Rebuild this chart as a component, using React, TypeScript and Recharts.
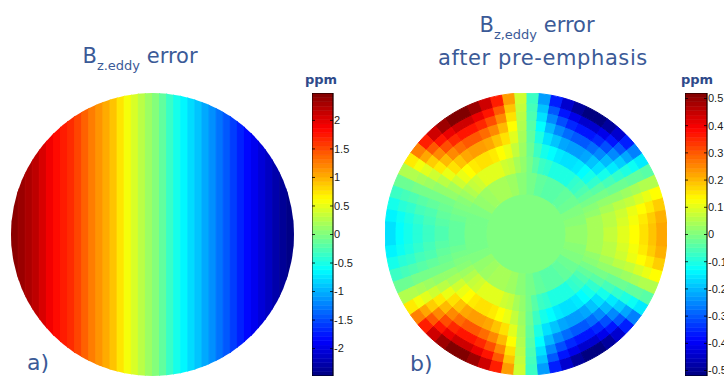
import React from 'react';
import { BarChart, Bar, Cell, XAxis, YAxis, PieChart, Pie, ComposedChart, ReferenceArea } from 'recharts';

// panel a: error per vertical strip, left -> right (ppm)
const stripsA = [
  2.43, 2.35, 2.27, 2.18, 2.05, 1.92, 1.81, 1.73, 1.65, 1.53,
  1.39, 1.25, 1.14, 1.03, 0.91, 0.74, 0.57, 0.43, 0.28, 0.14,
  0.02, -0.15, -0.35, -0.52, -0.66, -0.79, -0.9, -1.04, -1.16, -1.3,
  -1.43, -1.57, -1.71, -1.83, -1.94, -2.05, -2.15, -2.27, -2.37, -2.45,
];

// panel b: error per ring sector, counter-clockwise from 3 o'clock, inner ring first (ppm)
const ring0 = [0];
const ring1 = [
  0.02, 0.01, 0, -0.02, -0.03, -0.04, -0.04, -0.03, -0.01, 0.01, 0.03, 0.04, 0.04, 0.03, 0.02, 0, -0.01, -0.01,
  -0.01, -0.01, 0, 0.02, 0.03, 0.04, 0.04, 0.03, 0.01, -0.01, -0.03, -0.04, -0.04, -0.03, -0.02, 0, 0.01, 0.02,
];
const ring2 = [
  0.04, 0.04, 0.04, 0.02, 0.01, -0.01, -0.03, -0.05, -0.07, -0.08, -0.1, -0.1, -0.1, -0.1, -0.08, -0.07, -0.04, -0.01,
  0.02, 0.04, 0.07, 0.08, 0.1, 0.1, 0.1, 0.1, 0.08, 0.07, 0.05, 0.03, 0.01, 0, -0.01, -0.02, -0.03, -0.03,
  -0.03, -0.03, -0.02, -0.01, 0, 0.01, 0.03, 0.05, 0.07, 0.08, 0.1, 0.1, 0.1, 0.1, 0.08, 0.07, 0.04, 0.02,
  -0.01, -0.04, -0.07, -0.08, -0.1, -0.1, -0.1, -0.1, -0.08, -0.07, -0.05, -0.03, -0.01, 0.01, 0.02, 0.04, 0.04, 0.04,
];
const ring3 = [
  0.07, 0.06, 0.06, 0.04, 0.02, -0.01, -0.04, -0.08, -0.11, -0.13, -0.15, -0.16, -0.16, -0.15, -0.13, -0.11, -0.07, -0.02,
  0.03, 0.07, 0.11, 0.13, 0.15, 0.16, 0.16, 0.15, 0.13, 0.11, 0.08, 0.04, 0.02, -0.01, -0.02, -0.03, -0.04, -0.05,
  -0.05, -0.04, -0.03, -0.02, -0.01, 0.02, 0.04, 0.08, 0.11, 0.13, 0.15, 0.16, 0.16, 0.15, 0.13, 0.11, 0.07, 0.03,
  -0.02, -0.07, -0.11, -0.13, -0.15, -0.16, -0.16, -0.15, -0.13, -0.11, -0.08, -0.04, -0.01, 0.02, 0.04, 0.06, 0.06, 0.07,
];
const ring4 = [
  0.1, 0.09, 0.08, 0.06, 0.02, -0.02, -0.06, -0.11, -0.16, -0.19, -0.22, -0.23, -0.23, -0.22, -0.19, -0.16, -0.1, -0.03,
  0.04, 0.1, 0.16, 0.19, 0.22, 0.23, 0.23, 0.22, 0.19, 0.16, 0.11, 0.06, 0.02, -0.01, -0.03, -0.05, -0.06, -0.07,
  -0.07, -0.06, -0.05, -0.03, -0.01, 0.02, 0.06, 0.11, 0.16, 0.19, 0.22, 0.23, 0.23, 0.22, 0.19, 0.16, 0.1, 0.04,
  -0.03, -0.1, -0.16, -0.19, -0.22, -0.23, -0.23, -0.22, -0.19, -0.16, -0.11, -0.06, -0.02, 0.02, 0.06, 0.08, 0.09, 0.1,
];
const ring5 = [
  0.13, 0.12, 0.11, 0.07, 0.03, -0.02, -0.08, -0.15, -0.2, -0.25, -0.28, -0.3, -0.3, -0.28, -0.25, -0.2, -0.13, -0.04,
  0.05, 0.13, 0.2, 0.25, 0.28, 0.3, 0.3, 0.28, 0.25, 0.2, 0.15, 0.08, 0.03, -0.01, -0.04, -0.06, -0.08, -0.09,
  -0.09, -0.08, -0.06, -0.04, -0.01, 0.03, 0.08, 0.15, 0.2, 0.25, 0.28, 0.3, 0.3, 0.28, 0.25, 0.2, 0.13, 0.05,
  -0.04, -0.13, -0.2, -0.25, -0.28, -0.3, -0.3, -0.28, -0.25, -0.2, -0.15, -0.08, -0.02, 0.03, 0.07, 0.11, 0.12, 0.13,
];
const ring6 = [
  0.16, 0.15, 0.13, 0.09, 0.04, -0.03, -0.1, -0.18, -0.25, -0.31, -0.35, -0.37, -0.37, -0.35, -0.31, -0.25, -0.16, -0.05,
  0.06, 0.16, 0.25, 0.31, 0.35, 0.37, 0.37, 0.35, 0.31, 0.25, 0.18, 0.1, 0.04, -0.01, -0.05, -0.08, -0.1, -0.11,
  -0.11, -0.1, -0.08, -0.05, -0.01, 0.04, 0.1, 0.18, 0.25, 0.31, 0.35, 0.37, 0.37, 0.35, 0.31, 0.25, 0.16, 0.06,
  -0.05, -0.16, -0.25, -0.31, -0.35, -0.37, -0.37, -0.35, -0.31, -0.25, -0.18, -0.1, -0.03, 0.04, 0.09, 0.13, 0.15, 0.16,
];
const ring7 = [
  0.19, 0.18, 0.15, 0.11, 0.05, -0.03, -0.12, -0.22, -0.3, -0.37, -0.41, -0.44, -0.44, -0.41, -0.37, -0.3, -0.19, -0.06,
  0.07, 0.19, 0.3, 0.37, 0.41, 0.44, 0.44, 0.41, 0.37, 0.3, 0.22, 0.12, 0.05, -0.02, -0.06, -0.09, -0.12, -0.13,
  -0.13, -0.12, -0.09, -0.06, -0.02, 0.05, 0.12, 0.22, 0.3, 0.37, 0.41, 0.44, 0.44, 0.41, 0.37, 0.3, 0.19, 0.07,
  -0.06, -0.19, -0.3, -0.37, -0.41, -0.44, -0.44, -0.41, -0.37, -0.3, -0.22, -0.12, -0.03, 0.05, 0.11, 0.15, 0.18, 0.19,
];
const ring8 = [
  0.22, 0.21, 0.18, 0.13, 0.05, -0.04, -0.15, -0.26, -0.36, -0.44, -0.49, -0.52, -0.52, -0.49, -0.44, -0.36, -0.23, -0.07,
  0.08, 0.23, 0.36, 0.44, 0.49, 0.52, 0.52, 0.49, 0.44, 0.36, 0.26, 0.15, 0.05, -0.02, -0.07, -0.11, -0.14, -0.16,
  -0.16, -0.14, -0.11, -0.07, -0.02, 0.05, 0.15, 0.26, 0.36, 0.44, 0.49, 0.52, 0.52, 0.49, 0.44, 0.36, 0.23, 0.08,
  -0.07, -0.23, -0.36, -0.44, -0.49, -0.52, -0.52, -0.49, -0.44, -0.36, -0.26, -0.15, -0.04, 0.05, 0.13, 0.18, 0.21, 0.22,
];
const ringsB = [ring0, ring1, ring2, ring3, ring4, ring5, ring6, ring7, ring8];

const rangeA = [-2.48, 2.48];
const rangeB = [-0.52, 0.52];
const ticksA = [-2, -1.5, -1, -0.5, 0, 0.5, 1, 1.5, 2];
const ticksB = [-0.5, -0.4, -0.3, -0.2, -0.1, 0, 0.1, 0.2, 0.3, 0.4, 0.5];

// ring edges in px (disc radius 141)
const ringEdges = [0, 40, 62, 78, 92, 104, 114, 123, 131, 141];

const TITLE = '#3b5a97';

function jet(v: number, lo: number, hi: number) {
  const t = Math.min(1, Math.max(0, (v - lo) / (hi - lo)));
  const c = (x: number) => Math.round(255 * Math.min(1, Math.max(0, x)));
  const r = c(Math.min(4 * t - 1.5, -4 * t + 4.5));
  const g = c(Math.min(4 * t - 0.5, -4 * t + 3.5));
  const b = c(Math.min(4 * t + 0.5, -4 * t + 2.5));
  return `rgb(${r},${g},${b})`;
}

const CbTick = ({ x, y, payload, barW }: any) => (
  <g>
    <line x1={x - barW} x2={x - barW + 3} y1={y} y2={y} stroke="#000" strokeWidth={0.8} />
    <line x1={x - 3} x2={x} y1={y} y2={y} stroke="#000" strokeWidth={0.8} />
    <text x={x + 1} y={y} dy="0.35em" fontSize={11} fill="#1a1a1a" fontFamily="Liberation Sans, Arial, sans-serif">
      {String(payload.value)}
    </text>
  </g>
);

function ColorBar({ left, barW, range, ticks }: { left: number; barW: number; range: number[]; ticks: number[] }) {
  const [lo, hi] = range;
  const levels = 64;
  const step = (hi - lo) / levels;
  const segs = Array.from({ length: levels }, (_, i) => ({ y1: lo + i * step, y2: lo + (i + 1) * step }));
  return (
    <div style={{ position: 'absolute', left, top: 93 }}>
      <ComposedChart width={barW + 40} height={283} data={[{ x: 0 }, { x: 1 }]} margin={{ top: 0, right: 0, bottom: 0, left: 0 }}>
        <XAxis dataKey="x" type="number" domain={[0, 1]} hide />
        <YAxis
          orientation="right"
          type="number"
          domain={[lo, hi]}
          ticks={ticks}
          interval={0}
          width={40}
          axisLine={false}
          tickLine={false}
          tickSize={0}
          tickMargin={0}
          allowDataOverflow
          tick={<CbTick barW={barW} />}
        />
        {segs.map((s, i) => {
          const c = jet((s.y1 + s.y2) / 2, lo, hi);
          return <ReferenceArea key={i} y1={s.y1} y2={s.y2} fill={c} fillOpacity={1} stroke={c} strokeWidth={0.6} ifOverflow="visible" />;
        })}
        <ReferenceArea y1={lo} y2={hi} fill="none" stroke="#000" strokeWidth={1} ifOverflow="visible" />
      </ComposedChart>
    </div>
  );
}

export default function App() {
  const stripData = stripsA.map((v, i) => ({ col: i, v, span: 1 }));
  return (
    <div style={{ position: 'absolute', left: 0, top: 0, width: 724, height: 377, overflow: 'hidden', background: '#fff' }}>
      {/* panel a */}
      <div style={{ position: 'absolute', left: 11, top: 93, width: 283, height: 283, clipPath: 'circle(141.5px at 141.5px 141.5px)' }}>
        <BarChart width={283} height={283} data={stripData} margin={{ top: 0, right: 0, bottom: 0, left: 0 }} barCategoryGap={0} barGap={0}>
          <XAxis dataKey="col" hide />
          <YAxis hide domain={[0, 1]} />
          <Bar dataKey="span" isAnimationActive={false}>
            {stripData.map((d, i) => {
              const c = jet(d.v, rangeA[0], rangeA[1]);
              return <Cell key={i} fill={c} stroke={c} strokeWidth={1} />;
            })}
          </Bar>
        </BarChart>
      </div>
      <ColorBar left={312} barW={21} range={rangeA} ticks={ticksA} />

      {/* panel b */}
      <div style={{ position: 'absolute', left: 385, top: 93 }}>
        <PieChart width={282} height={282} margin={{ top: 0, right: 0, bottom: 0, left: 0 }}>
          {ringsB.map((ring, k) => (
            <Pie
              key={k}
              data={ring.map((v) => ({ v, span: 1 }))}
              dataKey="span"
              cx="50%"
              cy="50%"
              innerRadius={ringEdges[k]}
              outerRadius={ringEdges[k + 1]}
              startAngle={0}
              endAngle={360}
              paddingAngle={0}
              isAnimationActive={false}
            >
              {ring.map((v, i) => {
                const c = jet(v, rangeB[0], rangeB[1]);
                return <Cell key={i} fill={c} stroke={c} strokeWidth={1} />;
              })}
            </Pie>
          ))}
        </PieChart>
      </div>
      <ColorBar left={685} barW={22} range={rangeB} ticks={ticksB} />

      {/* titles and labels */}
      <svg width={724} height={377} style={{ position: 'absolute', left: 0, top: 0, pointerEvents: 'none' }}>
        <g fontFamily="DejaVu Sans, sans-serif" fill={TITLE}>
          <text x={140} y={63} textAnchor="middle" fontSize={21}>
            B<tspan fontSize={13} dy={7}>z.eddy</tspan>
            <tspan dy={-7}> error</tspan>
          </text>
          <text x={537} y={32} textAnchor="middle" fontSize={21}>
            B<tspan fontSize={13} dy={7}>z,eddy</tspan>
            <tspan dy={-7}> error</tspan>
          </text>
          <text x={543} y={65} textAnchor="middle" fontSize={21} letterSpacing={0.6}>after pre-emphasis</text>
          <text x={27} y={370} fontSize={22}>a)</text>
          <text x={410} y={371} fontSize={22}>b)</text>
          <text x={321} y={84} textAnchor="middle" fontSize={13} fontWeight="bold" fill="#2e4a8a">ppm</text>
          <text x={697} y={84} textAnchor="middle" fontSize={13} fontWeight="bold" fill="#2e4a8a">ppm</text>
        </g>
      </svg>
    </div>
  );
}
